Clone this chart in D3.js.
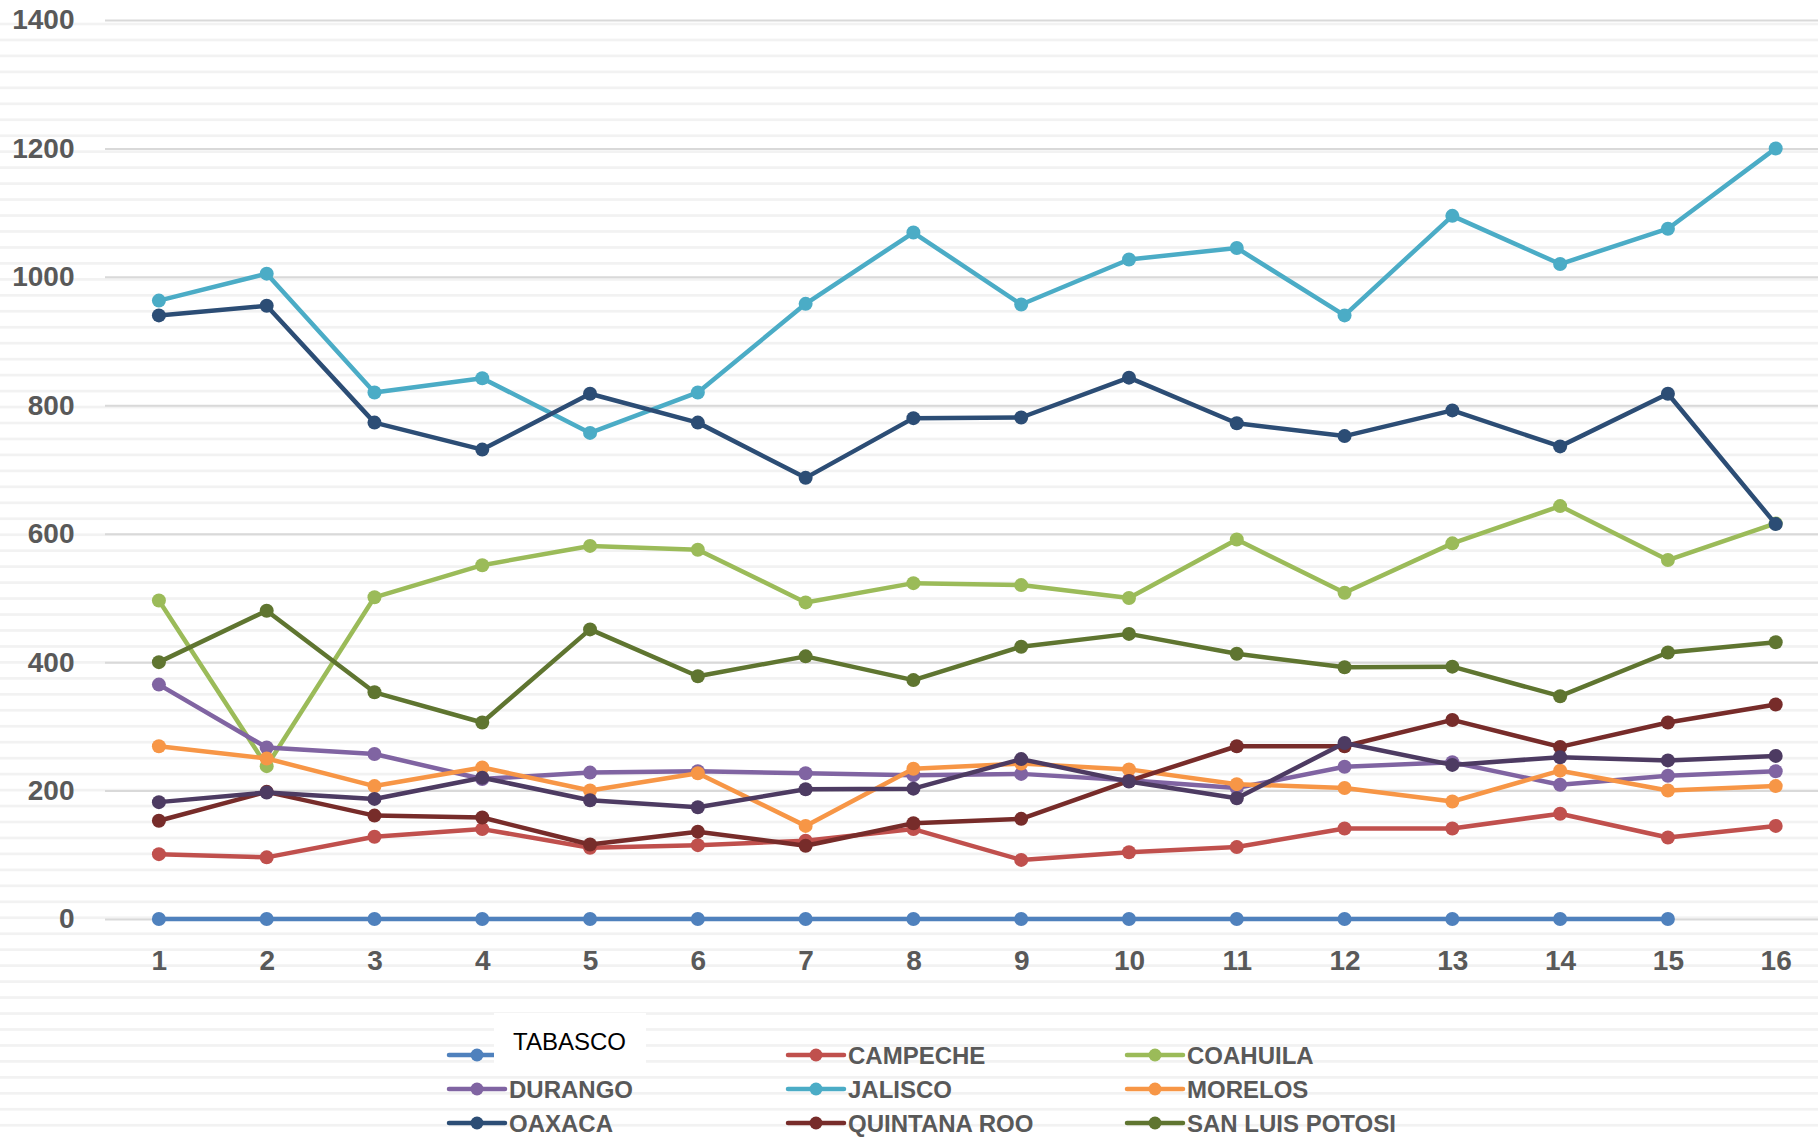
<!DOCTYPE html>
<html>
<head>
<meta charset="utf-8">
<script src="https://cdn.jsdelivr.net/npm/d3@7"></script>
<style>
  html, body { margin: 0; padding: 0; background: #ffffff; }
  svg { display: block; }
</style>
</head>
<body>
<script>
// ---------------- DATA ----------------
const categories = [1,2,3,4,5,6,7,8,9,10,11,12,13,14,15,16];
const yTicks = [0,200,400,600,800,1000,1200,1400];

const tabasco      = [0,0,0,0,0,0,0,0,0,0,0,0,0,0,0,null];
const campeche     = [101,96,128,140,111,115,122,140,92,104,112,141,141,164,127,145];
const coahuila     = [496,238,501,551,581,575,493,523,520,500,591,508,585,643,559,616];
const durango      = [365,267,257,218,228,230,227,224,226,216,204,237,244,209,223,230];
const jalisco      = [963,1005,820,842,757,820,958,1069,957,1027,1045,940,1095,1020,1075,1200];
const morelos      = [269,250,207,236,200,227,145,234,242,233,210,204,183,231,200,207];
const oaxaca       = [940,955,773,731,818,773,687,780,781,843,772,752,792,736,818,615];
const quintanaRoo  = [153,198,161,158,116,136,114,149,156,215,269,269,310,268,306,334];
const sanLuisPotosi= [400,480,353,306,451,378,409,372,424,444,413,392,393,347,415,431];
const unlabeled    = [182,197,187,220,185,174,202,203,249,214,188,274,240,252,247,254];

const seriesNames  = ["TABASCO","CAMPECHE","COAHUILA","DURANGO","JALISCO","MORELOS","OAXACA","QUINTANA ROO","SAN LUIS POTOSI",""];
const seriesValues = [tabasco,campeche,coahuila,durango,jalisco,morelos,oaxaca,quintanaRoo,sanLuisPotosi,unlabeled];
const seriesColors = ["#4F81BD","#C0504D","#9BBB59","#8064A2","#4BACC6","#F79646","#2C4D75","#772C2A","#5F7530","#4D3B62"];

// ---------------- LAYOUT ----------------
const W = 1818, H = 1138;
const plotLeft = 105, plotRight = W;
const yTop = 20, yBottom = 919;
const textGray = "#595959";
const font = "'Liberation Sans', Arial, sans-serif";

const svg = d3.select("body").append("svg")
  .attr("width", W).attr("height", H)
  .style("font-family", font);

svg.append("rect").attr("width", W).attr("height", H).attr("fill", "#ffffff");

// background stripes
const stripeG = svg.append("g");
const stripeYs = d3.range(24, H + 4, 15.96);
stripeG.selectAll("rect").data(stripeYs).join("rect")
  .attr("x", 0).attr("width", W)
  .attr("y", d => d - 1.35).attr("height", 2.7)
  .attr("fill", "#f2f2f2");

const x = d3.scalePoint().domain(categories).range([158.9, 1775.7]);
const y = d3.scaleLinear().domain([0, 1400]).range([yBottom, yTop]);

// gridlines
const grid = svg.append("g")
  .attr("transform", `translate(${plotLeft},0)`)
  .call(d3.axisRight(y).tickValues(yTicks).tickSize(plotRight - plotLeft).tickFormat(""));
grid.select(".domain").remove();
grid.selectAll(".tick line").attr("stroke", "#d9d9d9").attr("stroke-width", 2);

// y axis labels
const yAx = svg.append("g")
  .attr("transform", `translate(${plotLeft},0)`)
  .call(d3.axisLeft(y).tickValues(yTicks).tickSize(0).tickPadding(30.5).tickFormat(d3.format("d")));
yAx.select(".domain").remove();
yAx.selectAll("text").attr("fill", textGray).style("font-size", "28px").style("font-weight", "bold").style("font-family", font);

// x axis labels
const xAx = svg.append("g")
  .attr("transform", `translate(0,${yBottom})`)
  .call(d3.axisBottom(x).tickSize(0).tickPadding(31));
xAx.select(".domain").remove();
xAx.selectAll("text").attr("fill", textGray).style("font-size", "28px").style("font-weight", "bold").style("font-family", font);

// series
const line = d3.line()
  .defined(d => d.v !== null)
  .x(d => x(d.c)).y(d => y(d.v));

seriesValues.forEach((vals, i) => {
  const pts = categories.map((c, j) => ({c, v: vals[j]}));
  const g = svg.append("g");
  g.append("path").datum(pts)
    .attr("d", line)
    .attr("fill", "none")
    .attr("stroke", seriesColors[i])
    .attr("stroke-width", 4.5)
    .attr("stroke-linejoin", "round")
    .attr("stroke-linecap", "round");
  g.selectAll("circle").data(pts.filter(d => d.v !== null)).join("circle")
    .attr("cx", d => x(d.c)).attr("cy", d => y(d.v))
    .attr("r", 7)
    .attr("fill", seriesColors[i]);
});

// legend
const legCols = [449, 788, 1127];
const legRows = [1055, 1089, 1123];
const leg = svg.append("g");
seriesNames.forEach((name, i) => {
  if (!name) return;
  const col = i % 3, row = Math.floor(i / 3);
  const lx = legCols[col], ly = legRows[row];
  const g = leg.append("g");
  g.append("line").attr("x1", lx).attr("x2", lx + 56).attr("y1", ly).attr("y2", ly)
    .attr("stroke", seriesColors[i]).attr("stroke-width", 4.5).attr("stroke-linecap", "round");
  g.append("circle").attr("cx", lx + 28).attr("cy", ly).attr("r", 6.5).attr("fill", seriesColors[i]);
  if (i === 0) {
    // highlighted (white box) legend entry
    g.append("rect").attr("x", 494).attr("y", 1013).attr("width", 152).attr("height", 50).attr("fill", "#ffffff");
    g.append("text").attr("x", 513).attr("y", 1050)
      .attr("fill", "#000000").style("font-size", "24px").style("font-weight", "normal")
      .text(name);
  } else {
    g.append("text").attr("x", lx + 60).attr("y", ly + 8.5)
      .attr("fill", textGray).style("font-size", "24px").style("font-weight", "bold")
      .text(name);
  }
});
</script>
</body>
</html>
